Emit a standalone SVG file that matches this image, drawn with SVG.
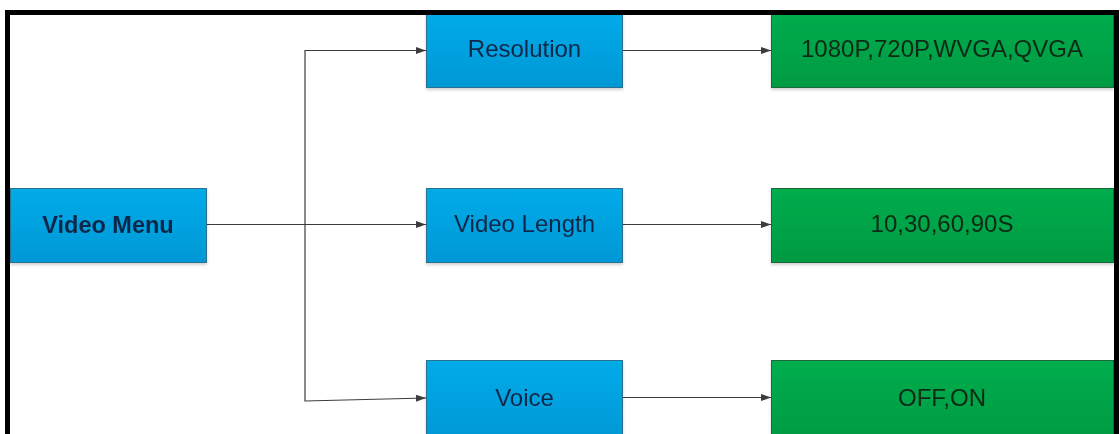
<svg xmlns="http://www.w3.org/2000/svg" width="1120" height="434" viewBox="0 0 1120 434">
  <style>
    .blue { fill: url(#gBlue); stroke: #2a6f8f; stroke-width: 1; }
    .green { fill: url(#gGreen); stroke: #1f6a3a; stroke-width: 1; }
    .t { font-family: "Liberation Sans", Arial, sans-serif; font-size: 24px; text-anchor: middle; }
    .tb { fill: #0d2748; }
    .tg { fill: #0b2a14; }
    .bold { font-weight: bold; font-size: 23.5px; }
    .conn { fill: none; stroke: #3c3c3c; stroke-width: 1.2; marker-end: url(#arrow); }
    .frame { fill: none; stroke: #000; stroke-width: 5; }
  </style>
  <defs>
    <linearGradient id="gBlue" x1="0" y1="0" x2="0" y2="1">
      <stop offset="0" stop-color="#06abe8"/>
      <stop offset="1" stop-color="#0398d6"/>
    </linearGradient>
    <linearGradient id="gGreen" x1="0" y1="0" x2="0" y2="1">
      <stop offset="0" stop-color="#03ad4d"/>
      <stop offset="1" stop-color="#029a42"/>
    </linearGradient>
    <filter id="sh" x="-5%" y="-10%" width="110%" height="130%">
      <feDropShadow dx="0" dy="2" stdDeviation="1.5" flood-color="#000" flood-opacity="0.18"/>
    </filter>
    <marker id="arrow" markerUnits="userSpaceOnUse" markerWidth="11" markerHeight="8" refX="10" refY="3.5" orient="auto">
      <path d="M0,0 L10,3.5 L0,7 z" fill="#3c3c3c"/>
    </marker>
  </defs>
  <rect x="0" y="0" width="1120" height="434" fill="#fff"/>

  <g id="connectors">
    <path class="conn" d="M206,224.5 H426"/>
    <path class="conn" d="M305,224.5 V50.5 H426"/>
    <path class="conn" d="M305,224.5 V401 L426,398"/>
    <path class="conn" d="M623,50.5 H771"/>
    <path class="conn" d="M623,224.5 H771"/>
    <path class="conn" d="M623,397.5 H771"/>
  </g>

  <g id="video-menu" filter="url(#sh)">
    <rect class="blue" x="10.5" y="188.5" width="196" height="74"/>
    <text class="t tb bold" x="108" y="233">Video Menu</text>
  </g>
  <g id="resolution" filter="url(#sh)">
    <rect class="blue" x="426.5" y="13.5" width="196" height="74"/>
    <text class="t tb" x="524.5" y="57">Resolution</text>
  </g>
  <g id="video-length" filter="url(#sh)">
    <rect class="blue" x="426.5" y="188.5" width="196" height="74"/>
    <text class="t tb" x="524.5" y="232">Video Length</text>
  </g>
  <g id="voice" filter="url(#sh)">
    <rect class="blue" x="426.5" y="360.5" width="196" height="80"/>
    <text class="t tb" x="524.5" y="406">Voice</text>
  </g>
  <g id="resolution-values" filter="url(#sh)">
    <rect class="green" x="771.5" y="13.5" width="342" height="74"/>
    <text class="t tg" x="942" y="57">1080P,720P,WVGA,QVGA</text>
  </g>
  <g id="length-values" filter="url(#sh)">
    <rect class="green" x="771.5" y="188.5" width="342" height="74"/>
    <text class="t tg" x="942" y="232">10,30,60,90S</text>
  </g>
  <g id="voice-values" filter="url(#sh)">
    <rect class="green" x="771.5" y="360.5" width="342" height="80"/>
    <text class="t tg" x="942" y="406">OFF,ON</text>
  </g>

  <path class="frame" d="M7.5,434 V12.5 H1116.5 V434"/>
</svg>
